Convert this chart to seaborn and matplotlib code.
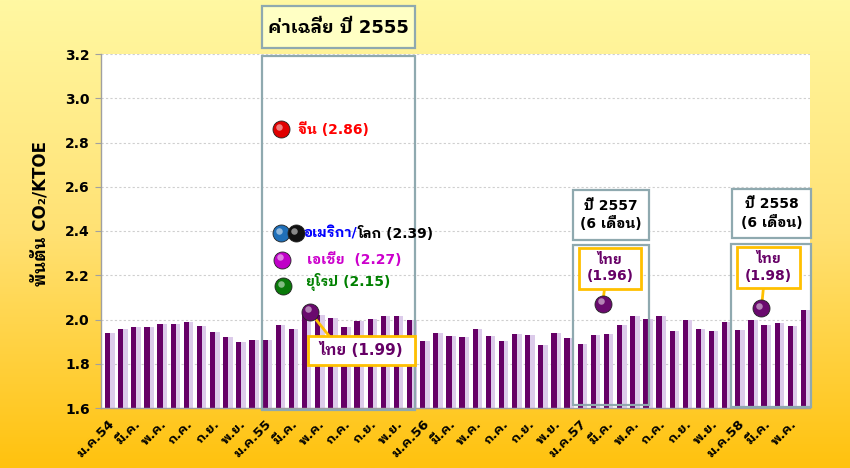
import numpy as np
import pandas as pd
import seaborn as sns
import matplotlib
matplotlib.use("Agg")
import matplotlib.pyplot as plt
from matplotlib.patches import Rectangle
from matplotlib.colors import LinearSegmentedColormap

# monthly CO2 intensity of Thailand (thousand ton CO2 / KTOE)
month_names = ['ม.ค.', 'ก.พ.', 'มี.ค.', 'เม.ย.', 'พ.ค.', 'มิ.ย.',
               'ก.ค.', 'ส.ค.', 'ก.ย.', 'ต.ค.', 'พ.ย.', 'ธ.ค.']
years_be = [54, 55, 56, 57, 58]
y2554 = [1.939, 1.959, 1.964, 1.965, 1.980, 1.980, 1.988, 1.971, 1.944, 1.921, 1.897, 1.908]
y2555 = [1.906, 1.974, 1.958, 2.030, 2.020, 2.006, 1.965, 1.992, 2.003, 2.015, 2.014, 1.998]
y2556 = [1.902, 1.939, 1.926, 1.921, 1.958, 1.927, 1.902, 1.935, 1.932, 1.886, 1.939, 1.917]
y2557 = [1.888, 1.932, 1.935, 1.973, 2.017, 2.002, 2.014, 1.947, 2.000, 1.956, 1.947, 1.989]
y2558 = [1.952, 1.997, 1.974, 1.982, 1.970, 2.042]
intensity = y2554 + y2555 + y2556 + y2557 + y2558

# average of year 2555 by region
region_names = ['จีน', 'อเมริกา/', 'โลก', 'เอเชีย ', 'ยุโรป']
region_avg = [2.86, 2.39, 2.39, 2.27, 2.15]
region_colors = ['#E00000', '#1F6FB8', '#111111', '#C000C8', '#0A7A0A']
region_text_colors = ['#FF0000', '#0000FF', '#000000', '#CC00CC', '#008000']

# Thailand averages
thai_avg = [1.99, 1.96, 1.98]
thai_labels = ['ไทย (%.2f)' % thai_avg[0], 'ไทย\n(%.2f)' % thai_avg[1], 'ไทย\n(%.2f)' % thai_avg[2]]
period_titles = ['ค่าเฉลี่ย ปี 2555', 'ปี 2557\n(6 เดือน)', 'ปี 2558\n(6 เดือน)']

keys, ticklabels = [], []
for i in range(len(intensity)):
    yr = years_be[i // 12]
    m = month_names[i % 12]
    keys.append(f"{m}{yr}")
    ticklabels.append(f"{m}{yr}" if i % 12 == 0 else m)
df = pd.DataFrame({'month': keys, 'value': intensity})

sns.set_style("white")
plt.rcParams['font.family'] = ['DejaVu Sans', 'IBM Plex Sans Thai Looped', 'Loma']
plt.rcParams['font.weight'] = 'bold'
plt.rcParams['text.color'] = 'black'
plt.rcParams['xtick.labelcolor'] = 'black'
plt.rcParams['ytick.labelcolor'] = 'black'

PURPLE = '#660066'
BOXEDGE = '#8FA9AF'
GOLD = '#FFC000'

fig = plt.figure(figsize=(8.5, 4.68), dpi=100)

# yellow gradient background
bg = fig.add_axes([0, 0, 1, 1], zorder=-10)
cmap = LinearSegmentedColormap.from_list('bg', ['#FFF8A2', '#FFE173', '#FFC20E'])
bg.imshow(np.linspace(0, 1, 256)[:, None], aspect='auto', cmap=cmap,
          extent=[0, 1, 0, 1], origin='upper')
bg.axis('off')

ax = fig.add_axes([101 / 850, 1 - 408 / 468, 709 / 850, 354 / 468])
ax.set_facecolor('white')

x = np.arange(len(intensity))
# soft shadow next to each bar
ax.bar(x + 0.28, df['value'], width=0.5, color='#DCCBEA', zorder=1.5, linewidth=0)
sns.barplot(data=df, x='month', y='value', order=keys, color=PURPLE, saturation=1,
            width=0.4, ax=ax, zorder=2, linewidth=0)

ax.set_xlim(-0.5, len(intensity) - 0.5)
ax.set_ylim(1.6, 3.2)
ax.set_yticks(np.arange(1.6, 3.21, 0.2))
ax.set_yticklabels(['%.1f' % v for v in np.arange(1.6, 3.21, 0.2)], fontsize=10,
                   fontweight='bold', color='black')
ax.yaxis.grid(True, linestyle=(0, (2, 2)), color='#CFCFCF', linewidth=0.8)
ax.set_axisbelow(True)

ax.set_xticks(x[::2])
ax.set_xticklabels(ticklabels[::2], rotation=45, ha='right', rotation_mode='anchor',
                   fontsize=9.5, fontweight='bold', color='black')
ax.set_xticks(np.arange(-0.5, len(intensity), 1), minor=True)
ax.tick_params(axis='x', which='major', length=0, pad=7)
ax.tick_params(axis='x', which='minor', length=4, color='#A0A0A0', width=0.8)
ax.tick_params(axis='y', length=4, color='#A0A0A0', width=0.8, left=True, pad=4)
ax.set_xlabel('')
ax.set_ylabel('')
for s in ['top', 'right']:
    ax.spines[s].set_visible(False)
for s in ['left', 'bottom']:
    ax.spines[s].set_color('#A0A0A0')
    ax.spines[s].set_linewidth(1)

fig.text(41 / 850, 1 - 214 / 468, 'พันตัน CO₂/KTOE', rotation=90, ha='center', va='center',
         fontsize=12, fontweight='bold', color='black')


def box(x0, x1, y0, y1, fc='none', ec=BOXEDGE, lw=1.6, z=4):
    ax.add_patch(Rectangle((x0, y0), x1 - x0, y1 - y0, facecolor=fc, edgecolor=ec,
                           linewidth=lw, zorder=z, clip_on=False))


def sphere(px, py, color):
    ax.scatter([px], [py], s=150, color=color, edgecolor='#222222', linewidth=0.6,
               zorder=8, clip_on=False)
    ax.scatter([px - 0.15], [py + 0.012], s=22, color='white', alpha=0.5,
               linewidth=0, zorder=9, clip_on=False)


# title box for year 2555
fig.patches.append(Rectangle((262 / 850, 1 - 48 / 468), 153 / 850, 42 / 468,
                             transform=fig.transFigure, facecolor='#FFFFC4',
                             edgecolor=BOXEDGE, linewidth=1.6))
fig.text(338.5 / 850, 1 - 28 / 468, period_titles[0], ha='center', va='center',
         fontsize=13, fontweight='bold', color='black')

# period frames
box(11.76, 23.41, 1.591, 3.191)
box(35.45, 41.24, 1.614, 2.337)
box(47.48, 53.58, 1.605, 2.341)
box(35.45, 41.24, 2.359, 2.585, fc='white')
box(47.56, 53.58, 2.368, 2.590, fc='white')
ax.text(38.35, 2.472, period_titles[1], ha='center', va='center', fontsize=10,
        fontweight='bold', zorder=6, linespacing=1.3, color='black')
ax.text(50.57, 2.479, period_titles[2], ha='center', va='center', fontsize=10,
        fontweight='bold', zorder=6, linespacing=1.3, color='black')

# region spheres for 2555
sx = [13.2, 13.2, 14.35, 13.27, 13.35]
for i in range(len(region_names)):
    sphere(sx[i], region_avg[i], region_colors[i])
ax.annotate('%s (%.2f)' % (region_names[0], region_avg[0]), (sx[0], region_avg[0]),
            xytext=(12, 0), textcoords='offset points', va='center', ha='left',
            color=region_text_colors[0], fontsize=10, fontweight='bold', zorder=10)
t_us = ax.annotate(region_names[1], (sx[1], region_avg[1]), xytext=(16.5, 0),
                   textcoords='offset points', va='center', ha='left',
                   color=region_text_colors[1], fontsize=10, fontweight='bold', zorder=10)
ax.annotate('%s (%.2f)' % (region_names[2], region_avg[2]), xy=(1, 0.5), xycoords=t_us,
            va='center', ha='left', color=region_text_colors[2], fontsize=10,
            fontweight='bold', zorder=10)
ax.annotate('%s (%.2f)' % (region_names[3], region_avg[3]), (sx[3], region_avg[3]),
            xytext=(18.5, 0), textcoords='offset points', va='center', ha='left',
            color=region_text_colors[3], fontsize=10, fontweight='bold', zorder=10)
ax.annotate('%s (%.2f)' % (region_names[4], region_avg[4]), (sx[4], region_avg[4]),
            xytext=(16.5, 3), textcoords='offset points', va='center', ha='left',
            color=region_text_colors[4], fontsize=10, fontweight='bold', zorder=10)

# Thailand markers and call-outs (marker lifted above the bars)
thai_x = [15.4, 37.7, 49.8]
thai_lift = [0.045, 0.11, 0.07]
ty = [thai_avg[i] + thai_lift[i] for i in range(3)]
ax.plot([thai_x[0], 16.94], [ty[0], 1.921], color=GOLD, lw=2, zorder=7)
ax.plot([37.85, thai_x[1]], [2.138, ty[1]], color=GOLD, lw=2, zorder=7)
ax.plot([49.95, thai_x[2]], [2.142, ty[2]], color=GOLD, lw=2, zorder=7)
for i in range(3):
    sphere(thai_x[i], ty[i], '#6A0A6E')

box(15.27, 23.41, 1.794, 1.925, fc='white', ec=GOLD, lw=2, z=7)
box(35.90, 40.63, 2.138, 2.323, fc='white', ec=GOLD, lw=2, z=7)
box(47.94, 52.74, 2.142, 2.328, fc='white', ec=GOLD, lw=2, z=7)
ax.text(19.34, 1.860, thai_labels[0], ha='center', va='center', fontsize=11,
        fontweight='bold', color=PURPLE, zorder=10)
ax.text(38.27, 2.231, thai_labels[1], ha='center', va='center', fontsize=10,
        fontweight='bold', color=PURPLE, zorder=10, linespacing=1.2)
ax.text(50.34, 2.235, thai_labels[2], ha='center', va='center', fontsize=10,
        fontweight='bold', color=PURPLE, zorder=10, linespacing=1.2)

fig.savefig('out.png', dpi=100)
